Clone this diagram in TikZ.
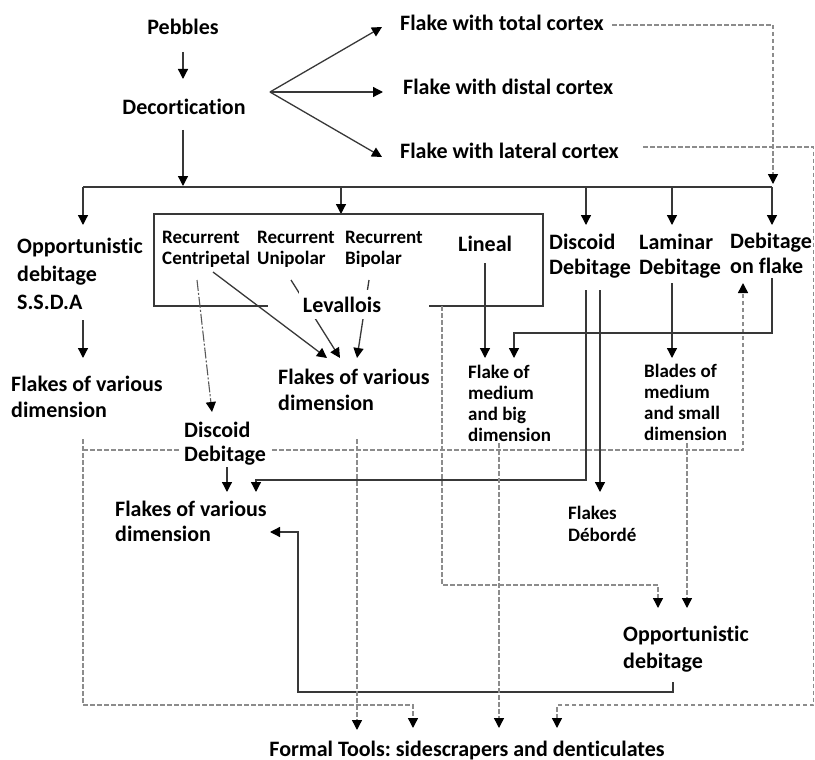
\documentclass[tikz,border=0pt]{standalone}
\usepackage{fontspec}
\setmainfont{Carlito}[Ligatures=NoCommon]
\usetikzlibrary{arrows.meta,calc}
\definecolor{linec}{gray}{0.22}
\definecolor{dashc}{gray}{0.55}
\pgfdeclarelayer{bg}
\pgfsetlayers{bg,main}
% stacked lines whose baseline is the first line
\newcommand\mlines[1]{\begin{tabular}[t]{@{}l@{}}#1\end{tabular}}
\frenchspacing
\begin{document}
\begin{tikzpicture}[x=1pt,y=-1pt,
  big/.style={font=\fontsize{22}{#1}\selectfont\bfseries, inner sep=0pt},
  big/.default=26,
  small/.style={font=\fontsize{19}{#1}\selectfont\bfseries, inner sep=0pt},
  small/.default=21.3,
  tip/.style={-{Triangle[width=10pt,length=10pt,color=black]}},
  conn/.style={draw=linec, line width=1.3pt},
  carr/.style={conn, tip},
  dconn/.style={draw=dashc, line width=1.4pt, dash pattern=on 4.5pt off 2.5pt},
  darr/.style={dconn, tip},
  garr/.style={draw=gray!70!black, line width=1.1pt, dash pattern=on 11pt off 2pt on 2pt off 2pt, tip},
  blank/.style={fill=white, inner xsep=4pt, inner ysep=7pt},
]
\useasboundingbox (0,0) rectangle (815,760);

% ---- labels ----
\node[big, anchor=base] (pebbles) at (183,35) {Pebbles};
\node[big, anchor=base] (decort) at (184,114) {Decortication};
\node[big, anchor=base west] (ftotal) at (400,31) {Flake with total cortex};
\node[big, anchor=base west] (fdistal) at (403,95) {Flake with distal cortex};
\node[big, anchor=base west] (flateral) at (400,158) {Flake with lateral cortex};

\node[big=28, anchor=base west] (ssda) at (17,253) {\mlines{Opportunistic\\debitage\\S.S.D.A}};
\node[small=21, anchor=base west] (cent) at (162,243) {\mlines{Recurrent\\Centripetal}};
\node[small=21, anchor=base west] (unip) at (257,243) {\mlines{Recurrent\\Unipolar}};
\node[small=21, anchor=base west] (bip) at (345,243) {\mlines{Recurrent\\Bipolar}};
\node[big, anchor=base west] (lineal) at (458,251) {Lineal};
\node[big, anchor=base, blank] (lev) at (342,312) {Levallois};
\node[big=25, anchor=base west] (discoid) at (549,249) {\mlines{Discoid\\Debitage}};
\node[big=25, anchor=base west] (laminar) at (639,249) {\mlines{Laminar\\Debitage}};
\node[big=25, anchor=base west] (debflake) at (730,248) {\mlines{Debitage\\on flake}};

\node[big=26, anchor=base west] (flakesA) at (11,391) {\mlines{Flakes of various\\dimension}};
\node[big=26, anchor=base west] (flakesB) at (278,384) {\mlines{Flakes of various\\dimension}};
\node[small, anchor=base west] (medbig) at (468,378) {\mlines{Flake of\\medium\\and big\\dimension}};
\node[small, anchor=base west] (blades) at (644,377) {\mlines{Blades of\\medium\\and small\\dimension}};

\node[big=24, anchor=base west, blank] (discoid2) at (180,437) {\mlines{Discoid\\Debitage}};
\node[big=25, anchor=base west] (flakesC) at (115,516) {\mlines{Flakes of various\\dimension}};
\node[small=22, anchor=base west] (deborde) at (568,519) {\mlines{Flakes\\Débordé}};
\node[big=27, anchor=base west] (opp2) at (623,641) {\mlines{Opportunistic\\debitage}};
\node[big, anchor=base] (formal) at (467,756) {Formal Tools: sidescrapers and denticulates};

% ---- junction points ----
\coordinate (bar-w) at (83,187);
\coordinate (bar-e) at (772,187);
\coordinate (bar-in) at (183,186);
\coordinate (box-top) at (341,214);
\coordinate (box-nw) at (154,214);
\coordinate (box-se) at (543,306);
\coordinate (fan) at ([shift={(86,-22)}]decort.base);
\coordinate (ssda-in) at ([shift={(66,-28)}]ssda.base west);
\coordinate (discoid-in) at ([shift={(37,-24)}]discoid.base west);
\coordinate (laminar-in) at ([shift={(33,-24)}]laminar.base west);
\coordinate (debflake-in) at ([shift={(42,-23)}]debflake.base west);

% ---- solid connectors ----
\draw[carr] ([shift={(0,17)}]pebbles.base) -- ([shift={(-1,-35)}]decort.base);
\draw[carr] (fan) -- ([shift={(-18,-4)}]ftotal.base west);
\draw[carr] (fan) -- ([shift={(-20,-3)}]fdistal.base west);
\draw[carr] (fan) -- ([shift={(-18,-1)}]flateral.base west);
\draw[carr] ([shift={(-1,16)}]decort.base) -- (bar-in);

\draw[conn] (bar-w) -- (bar-e);
\draw[carr] (bar-w) -- (ssda-in);
\draw[carr] (bar-w -| box-top) -- (box-top);
\draw[carr] (discoid-in |- bar-w) -- (discoid-in);
\draw[carr] (laminar-in |- bar-w) -- (laminar-in);
\draw[carr] (bar-e) -- (debflake-in);

% Levallois frame, open under its label
\draw[conn] (box-se -| lev.west) ++(-31,0) -- (box-se -| box-nw) -- (box-nw) -- (box-nw -| box-se) -- (box-se) -- ++(-114,0);

\draw[carr] ([shift={(51,29)}]cent.base west) -- ([shift={(49,-26)}]flakesB.base west);
\begin{pgfonlayer}{bg}
\draw[carr] ([shift={(34,37)}]unip.base west) -- ([shift={(62,-26)}]flakesB.base west);
\draw[carr] ([shift={(24,37)}]bip.base west) -- ([shift={(79,-26)}]flakesB.base west);
\end{pgfonlayer}
\draw[garr] ([shift={(35,37)}]cent.base west) -- ([shift={(32,-25)}]discoid2.base west);

\draw[carr] ([shift={(27,12)}]lineal.base west) -- ([shift={(17,-20)}]medbig.base west);
\draw[carr] ([shift={(42,30)}]debflake.base west) -- ++(0,55) -| ([shift={(46,-20)}]medbig.base west);
\draw[carr] ([shift={(66,67)}]ssda.base west) -- ([shift={(72,-33)}]flakesA.base west);
\draw[carr] ([shift={(37,41)}]discoid.base west) -- ++(0,190) -| ([shift={(141,-24)}]flakesC.base west);
\draw[carr] ([shift={(51,41)}]discoid.base west) -- ([shift={(32,-27)}]deborde.base west);
\draw[carr] ([shift={(33,34)}]laminar.base west) -- ([shift={(28,-19)}]blades.base west);
\draw[carr] ([shift={(47,30)}]discoid2.base west) -- ([shift={(112,-24)}]flakesC.base west);
\draw[carr] ([shift={(50,41)}]opp2.base west) -- ++(0,10) -| ([shift={(183,16)}]flakesC.base west) -- ([shift={(155,16)}]flakesC.base west);

% ---- dashed connectors ----
\draw[darr] ([shift={(212,-6)}]ftotal.base west) -| ([shift={(1,-3)}]bar-e);
\draw[darr] ([shift={(243,-11)}]flateral.base west) -- ++(170.5,0) |- ([shift={(90,-51)}]formal.base) -- ([shift={(90,-28)}]formal.base);
\draw[darr] ([shift={(72,48)}]flakesA.base west) |- ([shift={(-54,-51)}]formal.base) -- ([shift={(-54,-28)}]formal.base);
\begin{pgfonlayer}{bg}
\draw[darr] ([shift={(72,59)}]flakesA.base west) -| ([shift={(13,35)}]debflake.base west);
\end{pgfonlayer}
\draw[darr] ([shift={(79,55)}]flakesB.base west) -- ([shift={(-110,-26)}]formal.base);
\draw[darr] ([shift={(31,65)}]medbig.base west) -- ([shift={(32,-28)}]formal.base);
\draw[darr] ([shift={(43,66)}]blades.base west) -- ([shift={(64,-33)}]opp2.base west);
\draw[darr] ([shift={(-101,0)}]box-se) |- ([shift={(35,-56)}]opp2.base west) -- ([shift={(35,-33)}]opp2.base west);
\end{tikzpicture}
\end{document}
